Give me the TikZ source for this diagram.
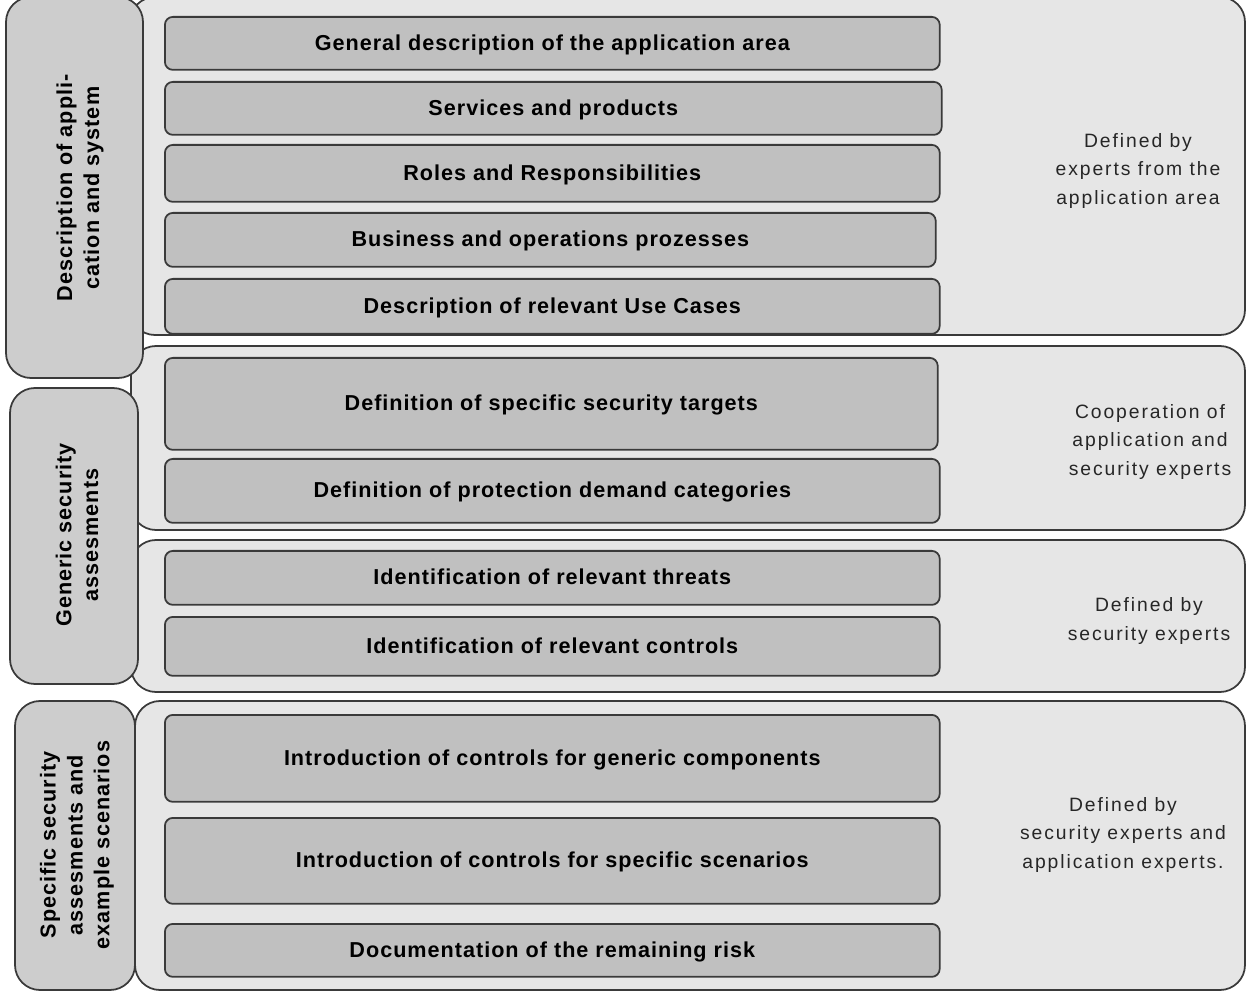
\documentclass[tikz,border=0pt]{standalone}
\usepackage{fontspec}
\setmainfont{Liberation Sans}
\newfontfamily\boxfont{Liberation Sans}[LetterSpace=4.6]
\newfontfamily\notefont{Liberation Sans}[LetterSpace=10]
\usetikzlibrary{fit}

\definecolor{panelgray}{HTML}{E6E6E6}
\definecolor{tabgray}{HTML}{CDCDCD}
\definecolor{itemgray}{HTML}{C0C0C0}
\definecolor{edgegray}{HTML}{3A3A3A}

\tikzset{
  panel/.style={draw=edgegray, fill=panelgray, line width=1pt, rounded corners=0.5cm},
  tab/.style={draw=edgegray, fill=tabgray, line width=1pt, rounded corners=0.5cm, inner sep=0pt},
  item/.style={draw=edgegray, fill=itemgray, line width=1pt, rounded corners=0.16cm, inner sep=0pt,
    anchor=north west, minimum width=15.5cm, minimum height=1.06cm, text height=1em, text depth=0.22em,
    font=\boxfont\bfseries\fontsize{12.3}{14}\selectfont},
  tabtext/.style={rotate=90, align=center, font=\boxfont\bfseries\fontsize{12.3}{15.3}\selectfont},
  note/.style={align=center, font=\notefont\fontsize{11}{16.4}\selectfont, text=black!85},
}

\begin{document}
\begin{tikzpicture}[x=0.02cm, y=-0.02cm]
	\useasboundingbox (0,0) rectangle (1249,1000);
	% background panels
	\draw[panel] (130,-3) rectangle (1245,335);
	\draw[panel] (131,346) rectangle (1245,530);
	\draw[panel] (131,540) rectangle (1245,692);
	\draw[panel] (135,701) rectangle (1245,990);

	% tabs on the left
	\node[tab, fit={(6,-3) (143,378)}] (tabDesc) {};
	\node[tab, fit={(10,388) (138,684)}] (tabGen) {};
	\node[tab, fit={(15,701) (135,990)}] (tabSpec) {};
	\node[tabtext] (tabDescText) at (80,188) {Description of appli-\\cation and system};
	\node[tabtext] (tabGenText) at (77,535) {Generic security\\assesments};
	\node[tabtext] (tabSpecText) at (77,845) {Specific security\\assesments and\\example scenarios};

	% steps
	\node[item] (general) at (164,16) {General description of the application area};
	\node[item, minimum width=15.54cm] (services) at (164,81) {Services and products};
	\node[item, minimum height=1.14cm] (roles) at (164,144) {Roles and Responsibilities};
	\node[item, minimum width=15.42cm, minimum height=1.08cm] (business) at (164,212) {Business and operations prozesses};
	\node[item, minimum height=1.1cm] (usecases) at (164,278) {Description of relevant Use Cases};
	\node[item, minimum width=15.46cm, minimum height=1.84cm] (targets) at (164,357) {Definition of specific security targets};
	\node[item, minimum height=1.28cm] (demand) at (164,458) {Definition of protection demand categories};
	\node[item, minimum height=1.08cm] (threats) at (164,550) {Identification of relevant threats};
	\node[item, minimum height=1.18cm] (controls) at (164,616) {Identification of relevant controls};
	\node[item, minimum height=1.74cm] (generic) at (164,714) {Introduction of controls for generic components};
	\node[item, minimum height=1.72cm] (scenarios) at (164,817) {Introduction of controls for specific scenarios};
	\node[item] (risk) at (164,923) {Documentation of the remaining risk};

	% who does it
	\node[note] (noteApp) at (1138,171) {Defined by\\experts from the\\application area};
	\node[note] (noteCoop) at (1150,442) {Cooperation of\\application and\\security experts};
	\node[note] (noteSec) at (1149,621) {Defined by\\security experts};
	\node[note] (noteBoth) at (1123,835) {Defined by\\security experts and\\application experts.};
\end{tikzpicture}
\end{document}
